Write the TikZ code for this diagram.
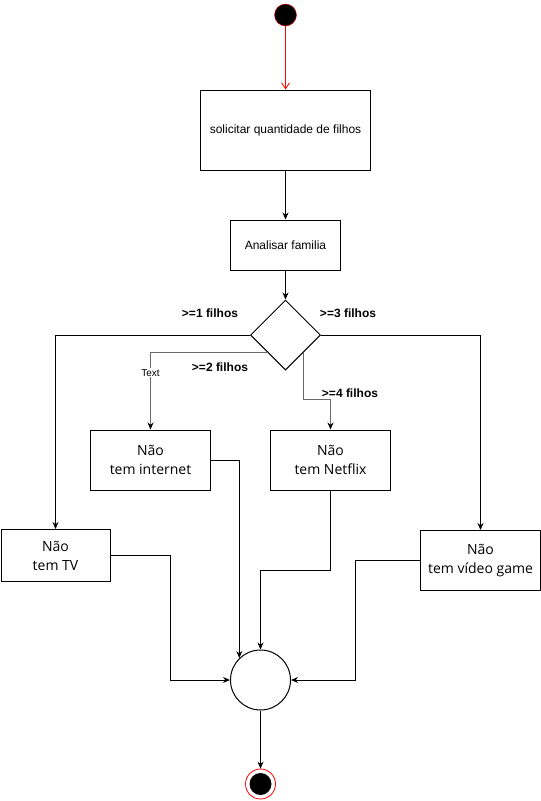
\documentclass[tikz,border=0pt]{standalone}
\usepackage{fontspec}
\setmainfont{Liberation Sans}
\newfontfamily\boxfont{Open Sans}
\usetikzlibrary{arrows.meta,shapes.geometric,calc}
\definecolor{linegray}{HTML}{6A6A6A}

\begin{document}
\begin{tikzpicture}[x=1pt,y=-1pt,
        every node/.style={inner sep=0pt},
        proc/.style={draw,line width=1pt,font=\fontsize{12}{14}\selectfont},
        nobox/.style={draw,line width=1pt,align=center,font=\boxfont\fontsize{14}{19}\selectfont},
        cond/.style={font=\bfseries\fontsize{12}{14}\selectfont},
        flow/.style={line width=1pt,-{Stealth[length=7pt,width=6pt]}},
        branch/.style={line width=1pt,draw=linegray,-{Stealth[length=7pt,width=6pt,color=black]}}]
        \useasboundingbox (0,0) rectangle (541,801);

        % estados inicial e final
        \node[circle,draw=red,fill=black,minimum size=22pt] (start) at (285.5,15) {};
        \node[circle,draw=red,line width=0.8pt,fill=white,minimum size=30pt,
              path picture={\fill[black] (path picture bounding box.center) circle (11pt);}] (end) at (260.5,784) {};

        \node[proc,minimum width=170pt,minimum height=80pt] (ask) at (285.5,130) {solicitar quantidade de filhos};
        \node[proc,minimum width=110pt,minimum height=50pt] (analyse) at (285.5,245) {Analisar familia};
        \node[diamond,draw,line width=1pt,minimum width=70pt,minimum height=70pt] (dec) at (285.5,335) {};

        % caixas "Não tem"
        \node[nobox,minimum width=120pt,minimum height=60pt] (internet) at (150.5,460) {Não\\tem internet};
        \node[nobox,minimum width=120pt,minimum height=60pt] (netflix) at (330.5,460) {Não\\tem Netflix};
        \node[nobox,minimum width=109pt,minimum height=52pt] (tv) at (55.5,555.5) {Não\\tem TV};
        \node[nobox,minimum width=120pt,minimum height=60pt] (game) at (480.5,560.5) {Não\\tem vídeo game};

        \node[circle,draw,line width=1pt,minimum size=60pt] (merge) at (260.5,680) {};

        \node[cond] (c1) at (210,313) {>=1 filhos};
        \node[cond] (c3) at (348,313) {>=3 filhos};
        \node[cond] (c2) at (220,367) {>=2 filhos};
        \node[cond] (c4) at (350,393) {>=4 filhos};

        \draw[red,line width=0.8pt,-{Straight Barb[length=6pt,width=8pt]}] (start) -- (ask);
        \draw[flow] (ask) -- (analyse);
        \draw[flow] (analyse) -- (dec);

        \draw[flow] (dec.west) -| (tv.north);
        \draw[flow] (dec.east) -| (game.north);
        \draw[branch] (dec.south west) -| (internet.north)
            node[pos=0.63,fill=white,inner sep=1pt,text=black,font=\fontsize{10}{12}\selectfont] (txt) {Text};
        \draw[branch] (dec.south east) -- ++(0,47) -| (netflix.north);

        % juntar em merge
        \draw[flow] (internet.east) -| (merge.134);
        \draw[flow] (netflix.south) -- ++(0,80) -| (merge.north);
        \draw[flow] (tv.east) -- ++(60,0) |- (merge.west);
        \draw[flow] (game.west) -- ++(-65,0) |- (merge.east);
        \draw[flow] (merge) -- (end);
\end{tikzpicture}
\end{document}
